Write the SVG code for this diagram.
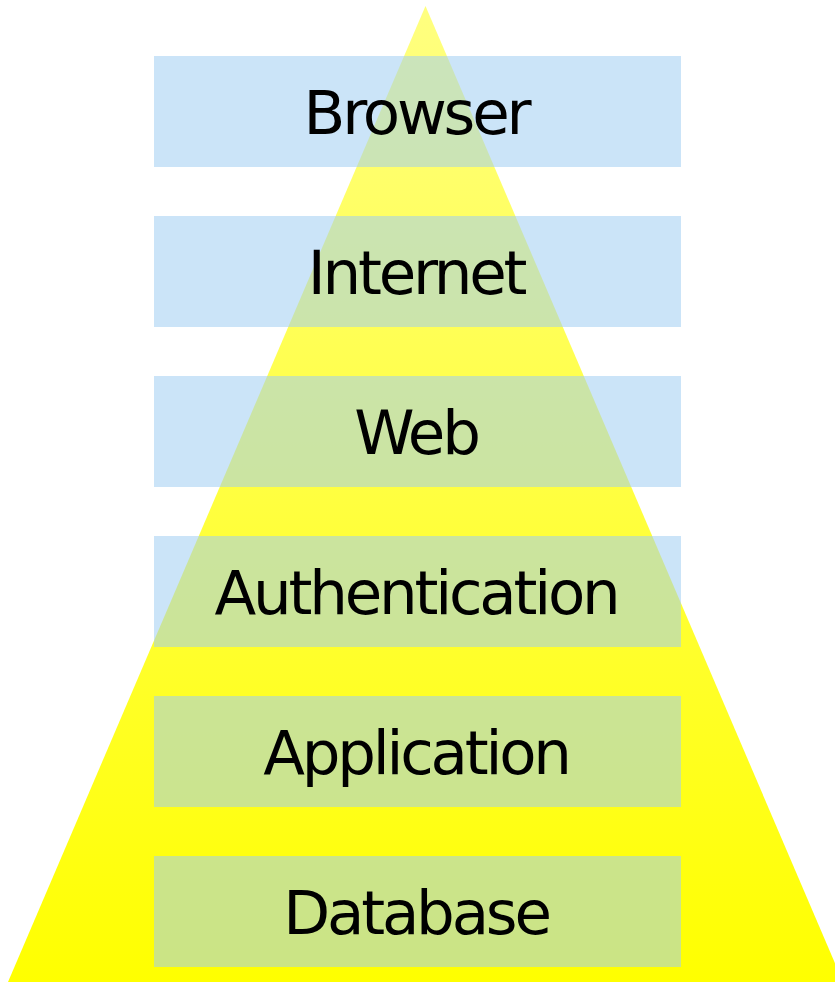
<svg xmlns="http://www.w3.org/2000/svg" width="835" height="982" viewBox="0 0 835 982">
  <defs>
    <linearGradient id="yellowGrad" x1="0" y1="6" x2="0" y2="982" gradientUnits="userSpaceOnUse">
      <stop offset="0" stop-color="#ffff80"/>
      <stop offset="1" stop-color="#ffff00"/>
    </linearGradient>
  </defs>
  <style>
    .layer { fill: rgb(160,205,242); fill-opacity: 0.545; }
    .label { font-family: "DejaVu Sans", "Liberation Sans", sans-serif; font-size: 61px; letter-spacing: -3.2px; fill: #000000; text-anchor: middle; }
  </style>
  <rect x="0" y="0" width="835" height="982" fill="#ffffff"/>
  <g id="pyramid">
    <polygon points="425.5,6 8,982 843,982" fill="url(#yellowGrad)"/>
  </g>
  <g id="connectors"></g>
  <g id="browser">
    <rect class="layer" x="154" y="56" width="527" height="111"/>
    <text class="label" x="416" y="134">Browser</text>
  </g>
  <g id="internet">
    <rect class="layer" x="154" y="216" width="527" height="111"/>
    <text class="label" x="416" y="294">Internet</text>
  </g>
  <g id="web">
    <rect class="layer" x="154" y="376" width="527" height="111"/>
    <text class="label" x="416" y="454">Web</text>
  </g>
  <g id="authentication">
    <rect class="layer" x="154" y="536" width="527" height="111"/>
    <text class="label" x="416" y="614">Authentication</text>
  </g>
  <g id="application">
    <rect class="layer" x="154" y="696" width="527" height="111"/>
    <text class="label" x="416" y="774">Application</text>
  </g>
  <g id="database">
    <rect class="layer" x="154" y="856" width="527" height="111"/>
    <text class="label" x="416" y="934">Database</text>
  </g>
</svg>
